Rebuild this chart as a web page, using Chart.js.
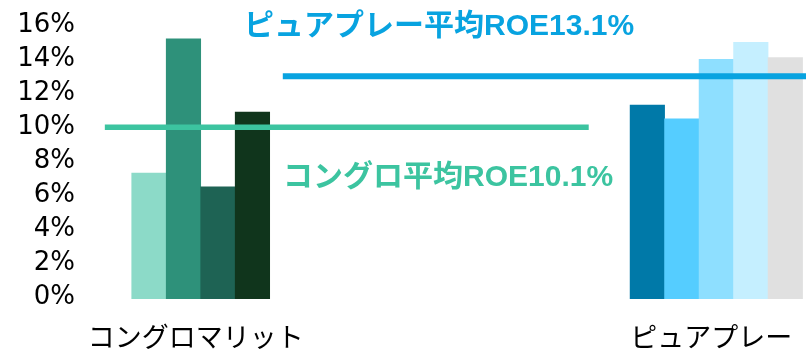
<!DOCTYPE html>
<html lang="ja">
<head>
<meta charset="utf-8">
<title>ROE比較</title>
<script src="https://cdn.jsdelivr.net/npm/chart.js@4/dist/chart.umd.min.js"></script>
<style>
  html, body { margin: 0; padding: 0; background: #fff; }
  #wrap { position: relative; width: 806px; height: 350px; }
</style>
</head>
<body>
<div id="wrap"><canvas id="roeChart"></canvas></div>
<script>
// 各社ROE (%)
const categories = ['コングロマリット', 'ピュアプレー'];
const congloROE = [7.4, 15.3, 6.6, 11.0];
const pureROE = [11.4, 10.6, 14.1, 15.1, 14.2];
const averages = [10.1, 13.1];
const yTicks = [0, 2, 4, 6, 8, 10, 12, 14, 16];

// x軸は棒1本分を1単位とする
const groupCenters = [3.5, 18.45];
const avgSpans = [[0.72, 14.75], [5.88, 21.05]];

const congloColors = ['#8cdac8', '#2e917a', '#1e6354', '#10351c'];
const pureColors = ['#0079a8', '#55cdff', '#8edfff', '#c5efff', '#e0e0e0'];
const avgColors = ['#3cc4a0', '#08a3e0'];

function groupPoints(values, center) {
  return values.map((v, i) => ({ x: center + i - (values.length - 1) / 2, y: v }));
}

const barData = [
  ...groupPoints(congloROE, groupCenters[0]),
  ...groupPoints(pureROE, groupCenters[1])
];

const avgDatasets = averages.map((avg, i) => ({
  type: 'line',
  data: avgSpans[i].map(x => ({ x, y: avg })),
  borderColor: avgColors[i],
  borderWidth: i === 0 ? 5.5 : 6,
  pointRadius: 0,
  order: 0
}));

// 平均ROEの見出し
const avgLabels = {
  id: 'avgLabels',
  afterDatasetsDraw(chart, args, opts) {
    const ctx = chart.ctx;
    ctx.save();
    ctx.font = 'bold 30px "Liberation Sans", "Noto Sans CJK JP", sans-serif';
    ctx.textBaseline = 'middle';
    ctx.textAlign = 'left';
    opts.items.forEach(it => {
      ctx.fillStyle = it.color;
      ctx.fillText(it.text, it.x, it.y);
    });
    ctx.restore();
  }
};

new Chart(document.getElementById('roeChart'), {
  type: 'bar',
  data: {
    datasets: [
      ...avgDatasets,
      {
        data: barData,
        backgroundColor: [...congloColors, ...pureColors],
        borderWidth: 0,
        barPercentage: 1,
        categoryPercentage: 1,
        order: 1
      }
    ]
  },
  plugins: [avgLabels],
  options: {
    responsive: true,
    maintainAspectRatio: false,
    animation: false,
    layout: { padding: { top: 27, right: 0, bottom: 0, left: 0 } },
    plugins: {
      legend: { display: false },
      tooltip: { enabled: false },
      avgLabels: {
        items: [
          { text: `ピュアプレー平均ROE${averages[1].toFixed(1)}%`, x: 244, y: 27, color: avgColors[1] },
          { text: `コングロ平均ROE${averages[0].toFixed(1)}%`, x: 283, y: 178, color: avgColors[0] }
        ]
      }
    },
    scales: {
      x: {
        type: 'linear',
        min: 0,
        max: 21.05,
        offset: false,
        grid: { display: false, drawTicks: false },
        border: { display: false },
        afterFit: s => {
          s.height = 51;
          s.paddingLeft = 0;
          s.paddingRight = 0;
        },
        afterBuildTicks: s => { s.ticks = groupCenters.map(v => ({ value: v })); },
        ticks: {
          autoSkip: false,
          maxRotation: 0,
          padding: 22,
          labelOffset: -5,
          color: '#000',
          font: { family: '"Noto Sans CJK JP"', size: 27 },
          callback: (v, i) => categories[i]
        }
      },
      y: {
        min: 0,
        max: 16,
        grid: { display: false, drawTicks: false },
        border: { display: false },
        afterFit: s => {
          s.width = 80;
          s.paddingTop = 0;
          s.paddingBottom = 0;
        },
        afterBuildTicks: s => { s.ticks = yTicks.map(v => ({ value: v })); },
        ticks: {
          autoSkip: false,
          padding: 5,
          labelOffset: -2,
          color: '#000',
          font: { family: '"DejaVu Sans"', size: 26 },
          callback: v => v + '%'
        }
      }
    }
  }
});
</script>
</body>
</html>
